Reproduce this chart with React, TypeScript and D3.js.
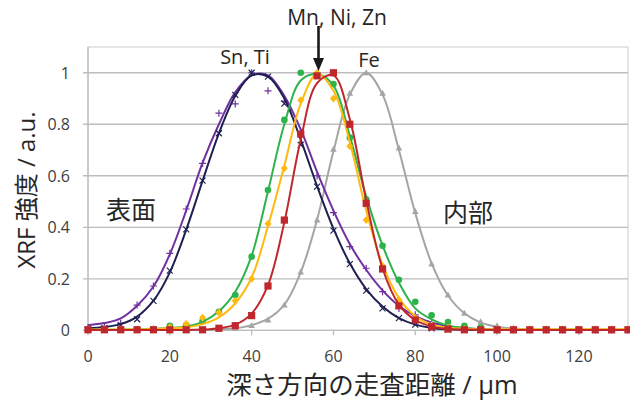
import React from 'react';
import * as d3 from 'd3';

// scan depth (μm) and XRF intensities
const depth = [0, 4, 8, 12, 16, 20, 24, 28, 32, 36, 40, 44, 48, 52, 56, 60, 64, 68, 72, 76,
  80, 84, 88, 92, 96, 100, 104, 108, 112, 116, 120, 124, 128, 132];

// purple "+"
const snPoints = [0.010, 0.015, 0.027, 0.098, 0.172, 0.299, 0.471, 0.648, 0.843, 0.879,
  1.000, 0.930, 0.890, 0.770, 0.600, 0.457, 0.325, 0.241, 0.150, 0.085,
  0.060, 0.025, 0.010, 0.005, 0.002, 0.001, 0.001, 0.001, 0.001, 0.001,
  0.001, 0.001, 0.001, 0.001];
const snFit = [0.020, 0.028, 0.046, 0.095, 0.170, 0.295, 0.465, 0.650, 0.800, 0.925,
  0.990, 0.990, 0.910, 0.780, 0.615, 0.465, 0.335, 0.235, 0.155, 0.095,
  0.055, 0.030, 0.016, 0.008, 0.004, 0.002, 0.001, 0.001, 0.001, 0.001,
  0.001, 0.001, 0.001, 0.001];

// navy "x"
const tiPoints = [0.003, 0.008, 0.020, 0.043, 0.114, 0.232, 0.392, 0.581, 0.765, 0.914,
  1.000, 0.985, 0.880, 0.720, 0.558, 0.387, 0.257, 0.154, 0.085, 0.047,
  0.022, 0.008, 0.003, 0.001, 0.001, 0.001, 0.001, 0.001, 0.001, 0.001,
  0.001, 0.001, 0.001, 0.001];
const tiFit = [0.008, 0.013, 0.024, 0.053, 0.115, 0.225, 0.390, 0.580, 0.765, 0.910,
  0.990, 0.985, 0.900, 0.740, 0.560, 0.395, 0.260, 0.160, 0.092, 0.047,
  0.022, 0.009, 0.004, 0.002, 0.001, 0.001, 0.001, 0.001, 0.001, 0.001,
  0.001, 0.001, 0.001, 0.001];

// green circles
const mnPoints = [0.002, 0.002, 0.003, 0.003, 0.005, 0.017, 0.020, 0.035, 0.072, 0.137,
  0.286, 0.545, 0.817, 1.000, 0.990, 0.956, 0.748, 0.509, 0.328, 0.196,
  0.111, 0.058, 0.032, 0.017, 0.012, 0.005, 0.003, 0.002, 0.002, 0.002,
  0.002, 0.002, 0.002, 0.002];
const mnFit = [0.002, 0.002, 0.003, 0.004, 0.006, 0.009, 0.015, 0.033, 0.074, 0.150,
  0.290, 0.540, 0.800, 0.970, 0.995, 0.950, 0.755, 0.520, 0.330, 0.185,
  0.085, 0.042, 0.018, 0.009, 0.005, 0.003, 0.002, 0.002, 0.002, 0.002,
  0.002, 0.002, 0.002, 0.002];

// yellow diamonds
const niPoints = [0.003, 0.003, 0.003, 0.003, 0.004, 0.012, 0.024, 0.049, 0.069, 0.115,
  0.200, 0.414, 0.629, 0.893, 1.000, 0.900, 0.715, 0.428, 0.250, 0.119,
  0.047, 0.020, 0.010, 0.005, 0.004, 0.004, 0.004, 0.004, 0.004, 0.004,
  0.004, 0.004, 0.004, 0.004];
const niFit = [0.003, 0.003, 0.003, 0.004, 0.005, 0.008, 0.012, 0.024, 0.050, 0.105,
  0.205, 0.405, 0.640, 0.880, 0.995, 0.930, 0.730, 0.465, 0.255, 0.125,
  0.055, 0.022, 0.010, 0.006, 0.004, 0.004, 0.004, 0.004, 0.004, 0.004,
  0.004, 0.004, 0.004, 0.004];

// red squares
const znPoints = [0.002, 0.002, 0.002, 0.002, 0.002, 0.002, 0.002, 0.002, 0.008, 0.018,
  0.057, 0.172, 0.428, 0.762, 0.988, 1.000, 0.800, 0.493, 0.238, 0.095,
  0.040, 0.014, 0.005, 0.002, 0.002, 0.002, 0.002, 0.002, 0.002, 0.002,
  0.002, 0.002, 0.002, 0.002];
const znFit = [0.001, 0.001, 0.001, 0.001, 0.001, 0.001, 0.001, 0.003, 0.008, 0.022,
  0.065, 0.175, 0.420, 0.740, 0.960, 0.990, 0.820, 0.505, 0.240, 0.100,
  0.040, 0.015, 0.006, 0.003, 0.002, 0.001, 0.001, 0.001, 0.001, 0.001,
  0.001, 0.001, 0.001, 0.001];

// gray triangles
const fePoints = [0.001, 0.001, 0.001, 0.001, 0.001, 0.001, 0.001, 0.001, 0.004, 0.008,
  0.018, 0.040, 0.098, 0.226, 0.428, 0.703, 0.920, 1.000, 0.920, 0.707,
  0.461, 0.257, 0.137, 0.066, 0.033, 0.017, 0.008, 0.004, 0.002, 0.002,
  0.002, 0.002, 0.002, 0.002];
const feFit = [0.001, 0.001, 0.001, 0.001, 0.001, 0.001, 0.001, 0.001, 0.004, 0.008,
  0.020, 0.045, 0.100, 0.225, 0.430, 0.695, 0.915, 1.000, 0.915, 0.700,
  0.455, 0.260, 0.135, 0.066, 0.030, 0.014, 0.007, 0.003, 0.002, 0.002,
  0.002, 0.002, 0.002, 0.002];

const xTicks = [0, 20, 40, 60, 80, 100, 120];
const yTicks = [0, 0.2, 0.4, 0.6, 0.8, 1];
const yTickLabels = ['0', '0.2', '0.4', '0.6', '0.8', '1'];

const series = [
  { name: 'Fe', points: fePoints, fit: feFit, color: '#a5a5a5', shape: 'triangle' },
  { name: 'Sn', points: snPoints, fit: snFit, color: '#7030a0', shape: 'plus' },
  { name: 'Ti', points: tiPoints, fit: tiFit, color: '#1f2052', shape: 'cross' },
  { name: 'Mn', points: mnPoints, fit: mnFit, color: '#2db34a', shape: 'circle' },
  { name: 'Ni', points: niPoints, fit: niFit, color: '#ffb90f', shape: 'diamond' },
  { name: 'Zn', points: znPoints, fit: znFit, color: '#c0272d', shape: 'square' },
];

const font = '"Open Sans", "Noto Sans CJK JP", sans-serif';

function Marker({ shape, cx, cy, color }) {
  if (shape === 'plus') {
    return <path d={`M${cx - 3.5},${cy}H${cx + 3.5}M${cx},${cy - 3.5}V${cy + 3.5}`} stroke={color} strokeWidth={1.2} />;
  }
  if (shape === 'cross') {
    return <path d={`M${cx - 3},${cy - 3}L${cx + 3},${cy + 3}M${cx - 3},${cy + 3}L${cx + 3},${cy - 3}`} stroke={color} strokeWidth={1.2} />;
  }
  if (shape === 'circle') {
    return <circle cx={cx} cy={cy} r={3.3} fill={color} />;
  }
  if (shape === 'diamond') {
    return <path d={`M${cx},${cy - 4}L${cx + 3.5},${cy}L${cx},${cy + 4}L${cx - 3.5},${cy}Z`} fill={color} />;
  }
  if (shape === 'square') {
    return <rect x={cx - 3.6} y={cy - 3.6} width={7.2} height={7.2} fill={color} />;
  }
  return <path d={`M${cx},${cy - 3.6}L${cx + 3.3},${cy + 2.4}L${cx - 3.3},${cy + 2.4}Z`} fill={color} />;
}

export default function App() {
  const x = d3.scaleLinear().domain([0, 132]).range([88, 628]);
  const y = d3.scaleLinear().domain([0, 1.1]).range([330.3, 47]);

  const line = d3.line<number>()
    .x((d, i) => x(depth[i]))
    .y((d) => y(d))
    .curve(d3.curveCatmullRom.alpha(0.5));

  return (
    <svg width={630} height={401} style={{ position: 'absolute', left: 0, top: 0, background: '#fff' }} fontFamily={font}>
      {/* plot frame */}
      <rect x={x(0)} y={y(1.1)} width={x(132) - x(0)} height={y(0) - y(1.1)} fill="none" stroke="#d4d4d4" strokeWidth={1.2} />
      {yTicks.map((t) => (
        <line key={t} x1={x(0) - 5} x2={x(132)} y1={y(t)} y2={y(t)} stroke="#bdbdbd" strokeWidth={1.3} />
      ))}
      <line x1={x(0)} x2={x(0)} y1={y(1.1)} y2={y(0)} stroke="#bdbdbd" strokeWidth={1.3} />
      {xTicks.map((t) => (
        <line key={t} x1={x(t)} x2={x(t)} y1={y(0)} y2={y(0) + 5} stroke="#bdbdbd" strokeWidth={1.3} />
      ))}

      {/* tick labels */}
      {yTicks.map((t, i) => (
        <text key={t} x={70} y={y(t) + 6} textAnchor="end" fontSize={16} fill="#404040">{yTickLabels[i]}</text>
      ))}
      {xTicks.map((t) => (
        <text key={t} x={x(t)} y={362} textAnchor="middle" fontSize={16} fill="#404040">{t}</text>
      ))}

      {/* series */}
      {series.map((s) => (
        <g key={s.name}>
          <path d={line(s.fit) || ''} fill="none" stroke={s.color} strokeWidth={2} />
          {s.points.map((v, i) => (
            <Marker key={i} shape={s.shape} cx={x(depth[i])} cy={y(v)} color={s.color} />
          ))}
        </g>
      ))}

      {/* annotations */}
      <text x={245} y={64} textAnchor="middle" fontSize={20} fill="#262626">Sn, Ti</text>
      <text x={337} y={25} textAnchor="middle" fontSize={21} fill="#262626">Mn, Ni, Zn</text>
      <text x={369} y={66.5} textAnchor="middle" fontSize={20} fill="#262626">Fe</text>
      <line x1={318.5} x2={318.5} y1={26} y2={60} stroke="#1a1a1a" strokeWidth={2.6} />
      <path d="M313,58L324,58L318.5,71Z" fill="#1a1a1a" />
      <text x={131} y={209} textAnchor="middle" dominantBaseline="central" fontSize={25} fill="#262626">表面</text>
      <text x={468} y={212} textAnchor="middle" dominantBaseline="central" fontSize={25} fill="#262626">内部</text>

      {/* axis titles */}
      <text x={372} y={384} textAnchor="middle" dominantBaseline="central" fontSize={25.5} fill="#262626">深さ方向の走査距離 / μm</text>
      <text transform="translate(25,190) rotate(-90)" textAnchor="middle" dominantBaseline="central" fontSize={24} fill="#262626">XRF 強度 / a.u.</text>
    </svg>
  );
}
